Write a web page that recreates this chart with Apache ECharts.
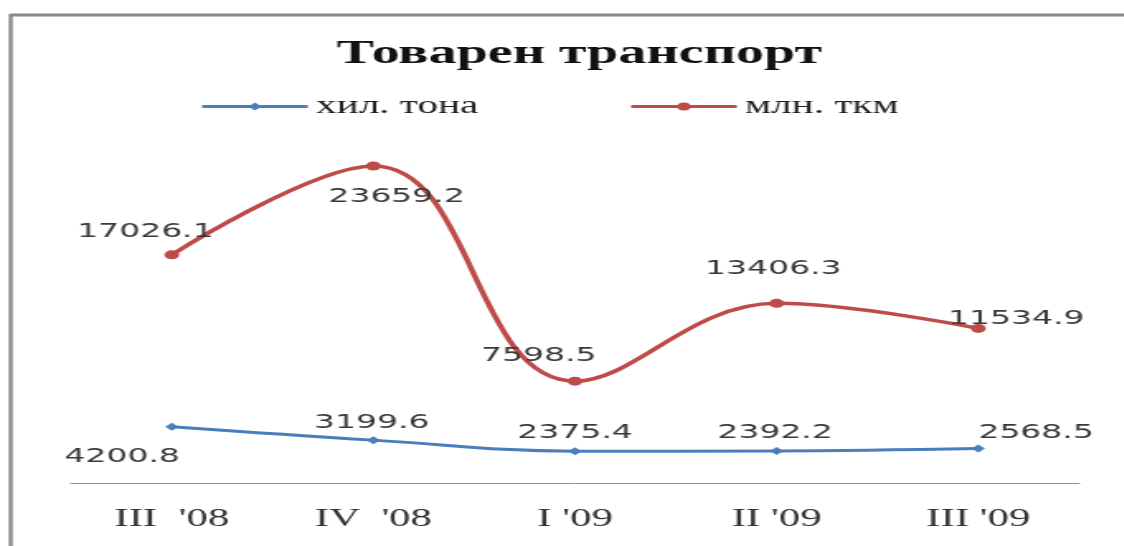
<!DOCTYPE html>
<html>
<head>
<meta charset="utf-8">
<script src="https://cdn.jsdelivr.net/npm/echarts@6/dist/echarts.min.js"></script>
<style>
  html, body { margin: 0; padding: 0; background: #fff; overflow: hidden; width: 1124px; height: 546px; }
  #chart { width: 681px; height: 546px; transform: scaleX(1.65); transform-origin: 0 0; }
</style>
</head>
<body>
<div id="chart"></div>
<script>
const titleText = 'Товарен транспорт';
const categories = ["III  '08", "IV  '08", "I '09", "II '09", "III '09"];
const seriesNames = ['хил. тона', 'млн. ткм'];
const tonsValues = [4200.8, 3199.6, 2375.4, 2392.2, 2568.5];
const tkmValues = [17026.1, 23659.2, 7598.5, 13406.3, 11534.9];

// label offsets (layout only)
const tonsOffsets = [[-30, 30], [-1, -17], [0, -18], [-1, -18], [35, -16]];
const tkmOffsets = [[-16, -23], [14, 31], [-22, -25], [-2, -35], [23, -10]];

const labelFont = { fontFamily: 'DejaVu Sans', fontSize: 20, color: '#383838' };

function mkData(vals, offs) {
  return vals.map((v, i) => ({
    value: v,
    label: { show: true, position: 'inside', offset: offs[i], formatter: (p) => p.value.toFixed(1), ...labelFont }
  }));
}

const legendText = { fontFamily: 'Liberation Serif', fontSize: 25, color: '#1e1e1e' };

const chart = echarts.init(document.getElementById('chart'), null, { renderer: 'canvas' });
chart.setOption({
  backgroundColor: '#fff',
  animation: false,
  title: {
    text: titleText,
    left: 204,
    top: 37,
    padding: 0,
    textStyle: { fontFamily: 'Liberation Serif', fontWeight: 'bold', fontSize: 34, color: '#111' }
  },
  legend: [
    { data: [seriesNames[0]], left: 116, top: 89, itemWidth: 64, itemHeight: 10, itemGap: 6,
      lineStyle: { width: 3 }, textStyle: legendText },
    { data: [seriesNames[1]], left: 376, top: 89, itemWidth: 64, itemHeight: 10, itemGap: 6,
      lineStyle: { width: 3 }, textStyle: legendText }
  ],
  grid: { left: 43, width: 611, top: 148, height: 335, containLabel: false },
  xAxis: {
    type: 'category',
    data: categories,
    boundaryGap: true,
    axisLine: { show: true, lineStyle: { color: '#8c8c8c', width: 1 } },
    axisTick: { show: false },
    axisLabel: { margin: 23, fontFamily: 'Liberation Serif', fontSize: 26, color: '#333' },
    splitLine: { show: false }
  },
  yAxis: {
    type: 'value', min: 0, max: 25000, interval: 5000,
    show: false, splitLine: { show: false }
  },
  series: [
    {
      name: seriesNames[0], type: 'line', smooth: 0.4,
      data: mkData(tonsValues, tonsOffsets),
      symbol: 'diamond', symbolSize: 8,
      lineStyle: { color: '#4a7ebb', width: 3 },
      itemStyle: { color: '#4a7ebb' }
    },
    {
      name: seriesNames[1], type: 'line', smooth: 0.4,
      data: mkData(tkmValues, tkmOffsets),
      symbol: 'circle', symbolSize: 9,
      lineStyle: { color: '#be4b48', width: 3.5 },
      itemStyle: { color: '#be4b48' }
    }
  ],
  graphic: [
    { type: 'line', shape: { x1: 6, y1: 15, x2: 681, y2: 15 }, style: { stroke: '#8a8a8a', lineWidth: 3 }, silent: true },
    { type: 'line', shape: { x1: 6.5, y1: 14, x2: 6.5, y2: 546 }, style: { stroke: '#8a8a8a', lineWidth: 2.4 }, silent: true }
  ]
});
</script>
</body>
</html>
